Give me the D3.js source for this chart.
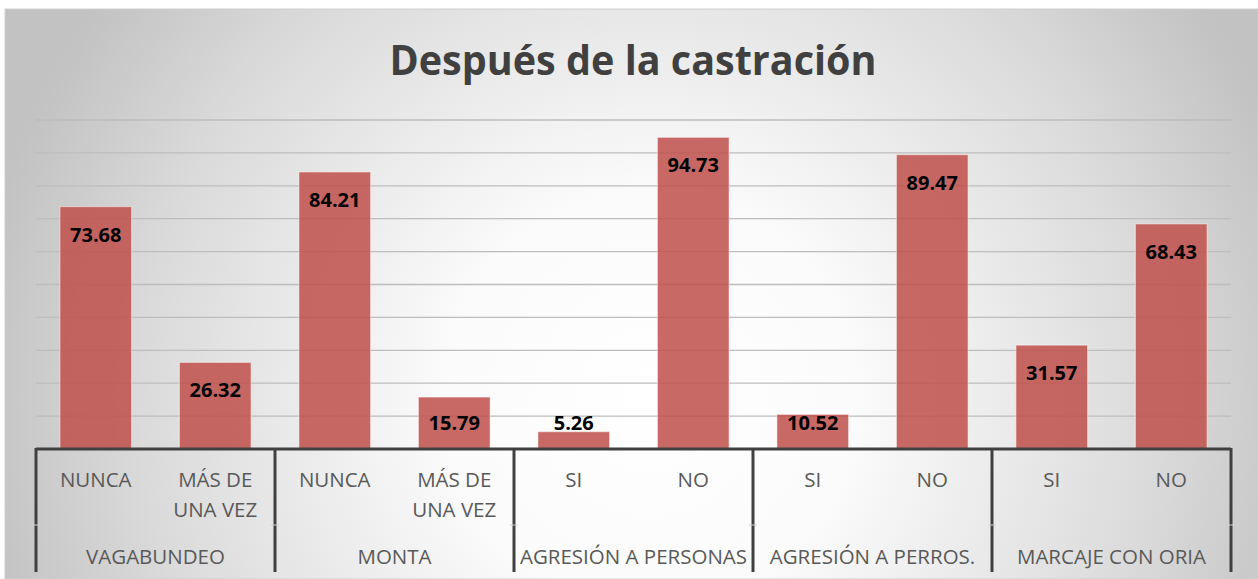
<!DOCTYPE html>
<html>
<head>
<meta charset="utf-8">
<script src="https://cdn.jsdelivr.net/npm/d3@7"></script>
<style>
  html, body { margin: 0; padding: 0; background: #fff; }
  svg { display: block; }
</style>
</head>
<body>
<svg id="chart" width="1258" height="579"></svg>
<script>
// chart data
var groups = ["VAGABUNDEO", "MONTA", "AGRESIÓN A PERSONAS", "AGRESIÓN A PERROS.", "MARCAJE CON ORIA"]
var subLabels = ["NUNCA", "MÁS DE UNA VEZ", "NUNCA", "MÁS DE UNA VEZ", "SI", "NO", "SI", "NO", "SI", "NO"]
var values = [73.68, 26.32, 84.21, 15.79, 5.26, 94.73, 10.52, 89.47, 31.57, 68.43]
var yTicks = [10, 20, 30, 40, 50, 60, 70, 80, 90, 100]
var title = "Después de la castración"

var svg = d3.select("#chart"),
  font = "'Open Sans', 'Liberation Sans', sans-serif",
  margin = {top: 120, right: 27, bottom: 130, left: 36},
  width = +svg.attr("width") - margin.left - margin.right,
  height = +svg.attr("height") - margin.top - margin.bottom

// background with radial gradient
var defs = svg.append("defs")
var grad = defs.append("radialGradient")
  .attr("id", "bg")
  .attr("gradientUnits", "userSpaceOnUse")
  .attr("cx", 650).attr("cy", 400).attr("r", 680)
grad.append("stop").attr("offset", "0").attr("stop-color", "#ffffff")
grad.append("stop").attr("offset", "0.3").attr("stop-color", "#fbfbfb")
grad.append("stop").attr("offset", "0.75").attr("stop-color", "#dadada")
grad.append("stop").attr("offset", "1").attr("stop-color", "#c2c2c2")

svg.append("rect")
  .attr("x", 5).attr("y", 9)
  .attr("width", 1253).attr("height", 570)
  .attr("fill", "url(#bg)")
  .attr("stroke", "#d0d0d0")

svg.append("text")
  .attr("x", 633).attr("y", 75)
  .attr("text-anchor", "middle")
  .attr("font-family", font)
  .attr("font-weight", "bold")
  .attr("font-size", 41)
  .attr("fill", "#404040")
  .attr("textLength", 487)
  .attr("lengthAdjust", "spacingAndGlyphs")
  .text(title)

var g = svg.append("g").attr("transform", "translate(" + margin.left + "," + margin.top + ")")

var x = d3.scaleBand()
  .domain(d3.range(values.length))
  .range([0, width])
  .paddingInner(0.4)
  .paddingOuter(0.2)

var xGroup = d3.scaleBand()
  .domain(groups)
  .range([0, width])

var y = d3.scaleLinear()
  .domain([0, 100])
  .range([height, 0])

// gridlines
g.append("g")
  .selectAll("line")
  .data(yTicks)
  .join("line")
  .attr("x1", 0).attr("x2", width)
  .attr("y1", d => y(d)).attr("y2", d => y(d))
  .attr("stroke", "#bdbdbd")
  .attr("stroke-width", 1.3)

// bars
g.append("g")
  .selectAll("rect")
  .data(values)
  .join("rect")
  .attr("x", (d, i) => x(i))
  .attr("y", d => y(d))
  .attr("width", x.bandwidth())
  .attr("height", d => y(0) - y(d))
  .attr("fill", "#c0504d")
  .attr("fill-opacity", 0.86)
  .attr("stroke", "rgba(255,255,255,0.45)")
  .attr("stroke-width", 1.2)

// data labels
g.append("g")
  .selectAll("text")
  .data(values)
  .join("text")
  .attr("x", (d, i) => x(i) + x.bandwidth() / 2)
  .attr("y", d => Math.min(y(d) + 28, y(0) - 26))
  .attr("dy", "0.35em")
  .attr("text-anchor", "middle")
  .attr("font-family", font)
  .attr("font-weight", "bold")
  .attr("font-size", 20)
  .attr("fill", "#000")
  .text(d => d.toFixed(2))

// axis line
g.append("line")
  .attr("x1", 0).attr("x2", width)
  .attr("y1", y(0)).attr("y2", y(0))
  .attr("stroke", "#404040")
  .attr("stroke-width", 3)

// group separators
var seps = groups.map(d => xGroup(d)).concat([width])
g.append("g")
  .selectAll("line")
  .data(seps)
  .join("line")
  .attr("x1", d => d).attr("x2", d => d)
  .attr("y1", y(0) - 1).attr("y2", y(0) + 123)
  .attr("stroke", "#404040")
  .attr("stroke-width", 3)

// faint ticks between the two label rows
g.append("g")
  .selectAll("line")
  .data(seps)
  .join("line")
  .attr("x1", d => d - 4).attr("x2", d => d + 4)
  .attr("y1", y(0) + 76).attr("y2", y(0) + 76)
  .attr("stroke", "#d0d0d0")
  .attr("stroke-width", 1)

// sub category labels, wrapped
var step = x.step()
var subG = g.append("g")
subLabels.forEach(function (lab, i) {
  var cx = x(i) + x.bandwidth() / 2
  var t = subG.append("text")
    .attr("x", cx)
    .attr("y", y(0) + 38)
    .attr("text-anchor", "middle")
    .attr("font-family", font)
    .attr("font-size", 20.5)
    .attr("fill", "#595959")
  var words = lab.split(" "), line = [], lines = []
  var probe = subG.append("text").attr("font-family", font).attr("font-size", 20.5)
  words.forEach(function (w) {
    line.push(w)
    probe.text(line.join(" "))
    if (probe.node().getComputedTextLength() > step - 14 && line.length > 1) {
      line.pop()
      lines.push(line.join(" "))
      line = [w]
    }
  })
  lines.push(line.join(" "))
  probe.remove()
  lines.forEach(function (l, k) {
    t.append("tspan").attr("x", cx).attr("dy", k === 0 ? 0 : 30).text(l)
  })
})

// group labels
g.append("g")
  .selectAll("text")
  .data(groups)
  .join("text")
  .attr("x", d => xGroup(d) + xGroup.bandwidth() / 2)
  .attr("y", y(0) + 115)
  .attr("text-anchor", "middle")
  .attr("font-family", font)
  .attr("font-size", 20.5)
  .attr("fill", "#595959")
  .text(d => d)
  .each(function () {
    var len = this.getComputedTextLength()
    if (len > xGroup.bandwidth() - 8) {
      d3.select(this).attr("textLength", xGroup.bandwidth() - 8).attr("lengthAdjust", "spacingAndGlyphs")
    }
  })
</script>
</body>
</html>
